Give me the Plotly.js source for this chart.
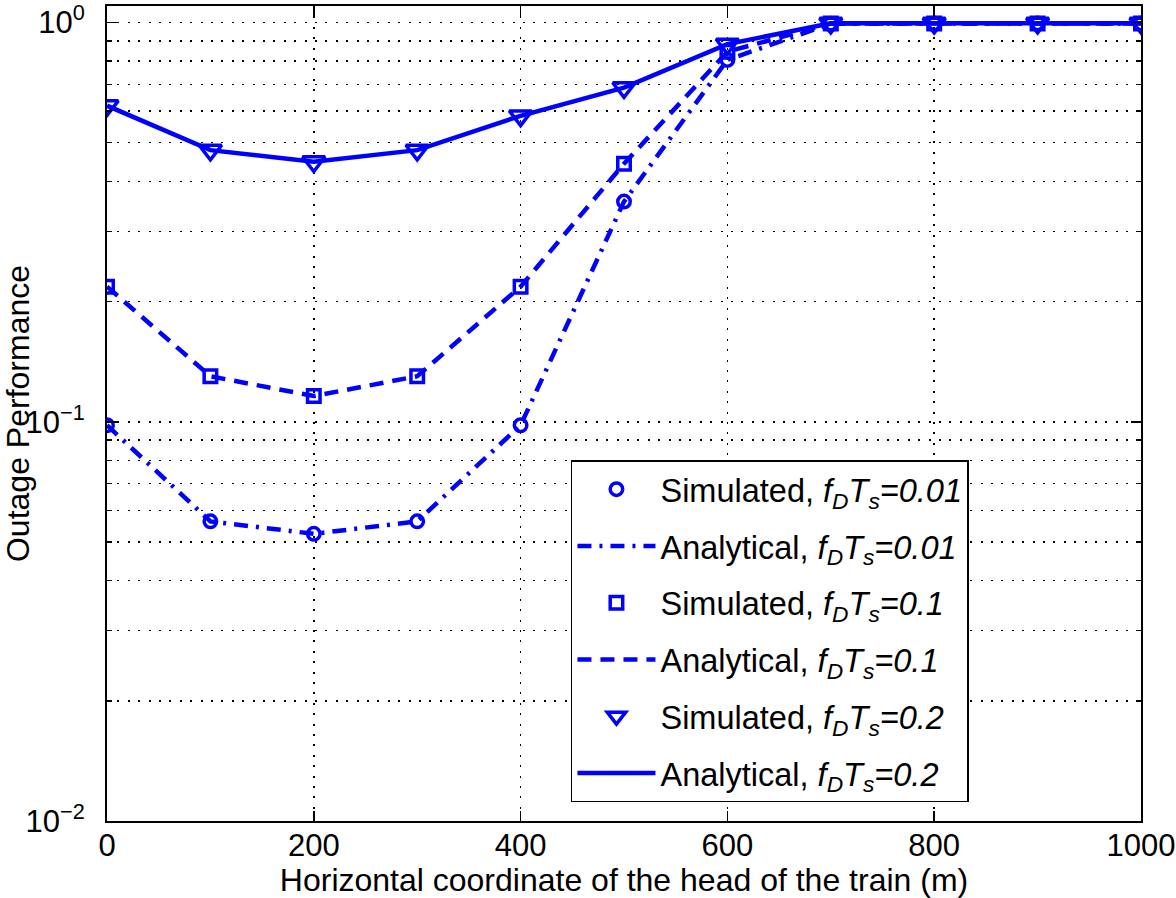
<!DOCTYPE html>
<html><head><meta charset="utf-8">
<script src="https://cdn.plot.ly/plotly-3.0.1.min.js"></script>
<style>html,body{margin:0;padding:0;background:#fff}#chart{width:1176px;height:898px}</style>
</head><body><div id="chart"></div>
<script>
// Data
const xPos = [0, 100, 200, 300, 400, 500, 600, 700, 800, 900, 1000];
const simulated001  = [0.098, 0.0563, 0.0524, 0.0563, 0.098, 0.356, 0.806, 0.993, 0.995, 0.995, 0.995];
const analytical001 = [0.098, 0.0563, 0.0524, 0.0563, 0.098, 0.356, 0.806, 0.993, 0.995, 0.995, 0.995];
const simulated01   = [0.218, 0.130, 0.116, 0.130, 0.218, 0.443, 0.845, 0.994, 0.995, 0.995, 0.995];
const analytical01  = [0.218, 0.130, 0.116, 0.130, 0.218, 0.443, 0.845, 0.994, 0.995, 0.995, 0.995];
const simulated02   = [0.619, 0.479, 0.448, 0.479, 0.584, 0.687, 0.883, 0.996, 0.996, 0.996, 0.996];
const analytical02  = [0.619, 0.479, 0.448, 0.479, 0.584, 0.687, 0.883, 0.996, 0.996, 0.996, 0.996];

const legendNames = [
  'Simulated, <i>f<sub>D</sub>T<sub>s</sub>=0.01</i>',
  'Analytical, <i>f<sub>D</sub>T<sub>s</sub>=0.01</i>',
  'Simulated, <i>f<sub>D</sub>T<sub>s</sub>=0.1</i>',
  'Analytical, <i>f<sub>D</sub>T<sub>s</sub>=0.1</i>',
  'Simulated, <i>f<sub>D</sub>T<sub>s</sub>=0.2</i>',
  'Analytical, <i>f<sub>D</sub>T<sub>s</sub>=0.2</i>'
];
const xTickVals = [0, 200, 400, 600, 800, 1000];
const xTickText = ['0', '200', '400', '600', '800', '1000'];
const yTickVals = [0.01, 0.1, 1];
const yTickText = ['10<sup>\u22122</sup>', '10<sup>\u22121</sup>', '10<sup>0</sup>'];
const xTitle = 'Horizontal coordinate of the head of the train (m)';
const yTitle = 'Outage Performance';

const BLUE = '#0000ff';
const yMinorVals = [];
[0.01, 0.1].forEach(d => { for (let k = 2; k <= 9; k++) yMinorVals.push(+(d * k).toPrecision(3)); });

function markerTrace(y, name, symbol, size, grp) {
  return {x: xPos, y: y, name: name, mode: 'markers', type: 'scatter', legendgroup: grp,
    marker: {symbol: symbol, size: size, color: BLUE, line: {color: BLUE, width: 3.5}}};
}
function lineTrace(y, name, dash, grp) {
  return {x: xPos, y: y, name: name, mode: 'lines', type: 'scatter', legendgroup: grp,
    line: {color: BLUE, width: 4.5, dash: dash}};
}

const traces = [
  markerTrace(simulated001, legendNames[0], 'circle-open', 12.5, 'g1'),
  lineTrace(analytical001, legendNames[1], '14px,8px,3px,8px', 'g2'),
  markerTrace(simulated01, legendNames[2], 'square-open', 12.5, 'g3'),
  lineTrace(analytical01, legendNames[3], '14px,9px', 'g4'),
  markerTrace(simulated02, legendNames[4], 'triangle-down-open', 19.5, 'g5'),
  lineTrace(analytical02, legendNames[5], 'solid', 'g6')
];

const gridStyle = {gridcolor: '#000', gridwidth: 1.5, griddash: '2px,8.4px'};

const layout = {
  width: 1176, height: 898,
  margin: {l: 107, r: 35, t: 6, b: 77, pad: 0},
  paper_bgcolor: '#fff', plot_bgcolor: '#fff',
  font: {family: 'Liberation Sans, Arial, Helvetica, sans-serif', size: 31, color: '#000'},
  showlegend: true,
  legend: {x: 0.4487, y: 0.4429, xanchor: 'left', yanchor: 'top', bgcolor: '#fff',
    bordercolor: '#000', borderwidth: 1.5, font: {size: 32.5}, tracegroupgap: 11.5,
    traceorder: 'grouped', itemwidth: 78},
  xaxis: Object.assign({
    range: [0, 1000], tickmode: 'array', tickvals: xTickVals, ticktext: xTickText,
    ticks: 'inside', ticklen: 10, tickwidth: 1.5, tickcolor: '#000',
    showline: true, linecolor: '#000', linewidth: 2, mirror: 'ticks',
    showgrid: true, zeroline: false, tickfont: {size: 31}, ticklabelstandoff: -4,
    ticklabeloverflow: 'allow',
    title: {text: xTitle, font: {size: 32}, standoff: 4}
  }, gridStyle),
  yaxis: Object.assign({
    type: 'log', range: [-2, Math.log10(1.1)], tickmode: 'array', tickvals: yTickVals, ticktext: yTickText,
    ticks: 'inside', ticklen: 10, tickwidth: 1.5, tickcolor: '#000',
    showline: true, linecolor: '#000', linewidth: 2, mirror: 'ticks',
    showgrid: true, zeroline: false, tickfont: {size: 31}, ticklabelstandoff: 14,
    ticklabeloverflow: 'allow',
    title: {text: yTitle, font: {size: 32}, standoff: 14},
    minor: Object.assign({tickmode: 'array', tickvals: yMinorVals, ticks: 'inside', ticklen: 5,
      tickwidth: 1.5, tickcolor: '#000', showgrid: true}, gridStyle)
  }, gridStyle)
};

Plotly.newPlot('chart', traces, layout, {displayModeBar: false, staticPlot: true});
</script>
</body></html>
